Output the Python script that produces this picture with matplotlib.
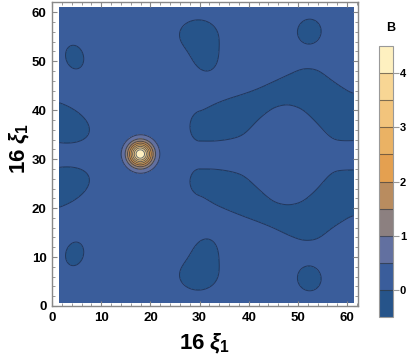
import numpy as np
import matplotlib
matplotlib.use("Agg")
import matplotlib.pyplot as plt
from matplotlib.ticker import MultipleLocator

plt.rcParams['font.family'] = 'Liberation Sans'
plt.rcParams['font.weight'] = 'bold'
plt.rcParams['mathtext.fontset'] = 'custom'
plt.rcParams['mathtext.it'] = 'Liberation Sans:italic:bold'
plt.rcParams['mathtext.rm'] = 'Liberation Sans:bold'
plt.rcParams['mathtext.bf'] = 'Liberation Sans:bold'

# field: flat background, one bright peak, dark (negative) patches
base_level = 0.25
dip_depth = 0.5
peak_x, peak_y = 17.95, 31.05
peak_height = 4.3
peak_width = 1.66

# isolated dark patches: centre, widths, tilt (deg); same group number = one patch
blob_group = [0, 1, 2, 3, 4, 4, 5, 5, 6, 7]
blob_x = [4.6, 4.6, 52.3, 52.3, 29.6, 31.1, 29.6, 31.1, 0.0, 0.0]
blob_y = [50.85, 10.65, 56.05, 5.65, 55.5, 51.4, 6.2, 10.3, 37.8, 23.9]
blob_sx = [1.53, 1.53, 2.04, 2.04, 3.0, 2.1, 3.0, 2.1, 6.7, 6.7]
blob_sy = [2.08, 2.08, 2.17, 2.17, 2.35, 2.9, 2.35, 2.9, 3.4, 3.4]
blob_tilt = [15, -15, -15, 15, 0, 12, 0, -12, -18, 18]

# the two long arms on the right: centre line and half thickness per column
arm_x = [30, 33, 36, 39, 42, 45, 48, 51, 54, 57, 60, 62]
top_arm_c = [36.65, 37.45, 38.2, 39.05, 41.3, 43.2, 44.25, 44.45, 42.85, 39.95, 38.85, 38.35]
top_arm_h = [2.95, 3.8, 4.2, 4.25, 3.1, 2.6, 2.95, 4.15, 5.55, 6.05, 5.15, 4.45]
bot_arm_c = [25.4, 24.4, 23.55, 22.55, 20.55, 18.6, 17.5, 17.25, 18.7, 21.8, 22.85, 23.45]
bot_arm_h = [2.6, 3.6, 4.05, 4.25, 3.35, 2.6, 3.0, 3.95, 5.2, 5.8, 4.95, 4.35]
arm_tip = 28.05

levels = np.arange(-0.5, 4.51, 0.5)
band_colors = ['#26548a', '#3a5d9b', '#6270a0', '#8c8080', '#b98c5f',
               '#e4a050', '#eab264', '#f2c47c', '#f8d694', '#fef0c0']

xs = np.linspace(1.5, 61.3, 400)
ys = np.linspace(0.7, 61.0, 400)
X, Y = np.meshgrid(xs, ys)


def bump(cx, cy, sx, sy, tilt=0.0):
    a = np.radians(tilt)
    u = (X - cx) * np.cos(a) + (Y - cy) * np.sin(a)
    v = -(X - cx) * np.sin(a) + (Y - cy) * np.cos(a)
    return np.exp(-u ** 2 / (2 * sx ** 2) - v ** 2 / (2 * sy ** 2))


def along(vals, width=1.0):
    # join the column readings, then soften the corners a little
    line = np.interp(xs, arm_x, vals)
    step = xs[1] - xs[0]
    k = np.arange(-4 * width, 4 * width + step, step)
    kern = np.exp(-k ** 2 / (2 * width ** 2))
    kern /= kern.sum()
    n = len(k) // 2
    padded = np.concatenate([np.full(n, line[0]), line, np.full(n, line[-1])])
    return np.convolve(padded, kern, mode='same')[n:n + len(xs)]


def arm(cs, hs):
    c = along(cs)[None, :]
    h = along(hs)[None, :]
    s = (arm_x[0] - arm_tip) / np.sqrt(2 * np.log(2))
    taper = np.exp(-np.minimum(X - arm_x[0], 0) ** 2 / (2 * s ** 2))
    return taper * np.exp(-np.log(2) * ((Y - c) / h) ** 2)


groups = {}
for g, cx, cy, sx, sy, t in zip(blob_group, blob_x, blob_y, blob_sx, blob_sy, blob_tilt):
    groups[g] = groups.get(g, 0) + bump(cx, cy, sx, sy, t)
parts = list(groups.values()) + [arm(top_arm_c, top_arm_h), arm(bot_arm_c, bot_arm_h)]
dips = np.max(np.array(parts), axis=0)

Z = base_level - dip_depth * dips + peak_height * bump(peak_x, peak_y, peak_width, peak_width)
Z = np.clip(Z, -0.49, 4.49)

fig = plt.figure(figsize=(4.13, 3.63), dpi=100)
ax = fig.add_axes([52 / 413, 1 - 306 / 363, 306 / 413, 304 / 363])
cs = ax.contourf(X, Y, Z, levels=levels, colors=band_colors)
ax.contour(X, Y, Z, levels=levels[1:-1], colors='#14233a', linewidths=0.7, alpha=0.65)

ax.set_xlim(0, 62.2)
ax.set_ylim(0, 62.1)
ax.set_xticks(range(0, 61, 10))
ax.set_yticks(range(0, 61, 10))
ax.xaxis.set_minor_locator(MultipleLocator(2))
ax.yaxis.set_minor_locator(MultipleLocator(2))
ax.tick_params(which='both', direction='in', top=True, right=True, color='#888888')
ax.tick_params(which='major', length=3.5, labelsize=9.5, pad=4)
ax.tick_params(which='minor', length=2)
for lab in ax.get_xticklabels() + ax.get_yticklabels():
    lab.set_fontweight('bold')
for s in ax.spines.values():
    s.set_color('#888888')
    s.set_linewidth(1)

ax.set_xlabel(r'16 $\xi_1$', fontsize=16, fontweight='bold', labelpad=6)
ax.set_ylabel(r'16 $\xi_1$', fontsize=16, fontweight='bold')
ax.yaxis.set_label_coords(-0.066, 0.52)

cax = fig.add_axes([379 / 413, 1 - 317 / 363, 14 / 413, 271 / 363])
cbar = fig.colorbar(cs, cax=cax, ticks=[0, 1, 2, 3, 4], drawedges=True)
cbar.outline.set_edgecolor('#999999')
cbar.dividers.set_color('#333333')
cbar.dividers.set_alpha(0.6)
cbar.dividers.set_linewidth(0.8)
cax.tick_params(length=4, color='#999999', labelsize=8, pad=1)
for lab in cax.get_yticklabels():
    lab.set_fontweight('bold')
fig.text(391 / 413, 1 - 28 / 363, 'B', fontsize=9, fontweight='bold', ha='center', va='center')

fig.savefig('out.png', dpi=100)
